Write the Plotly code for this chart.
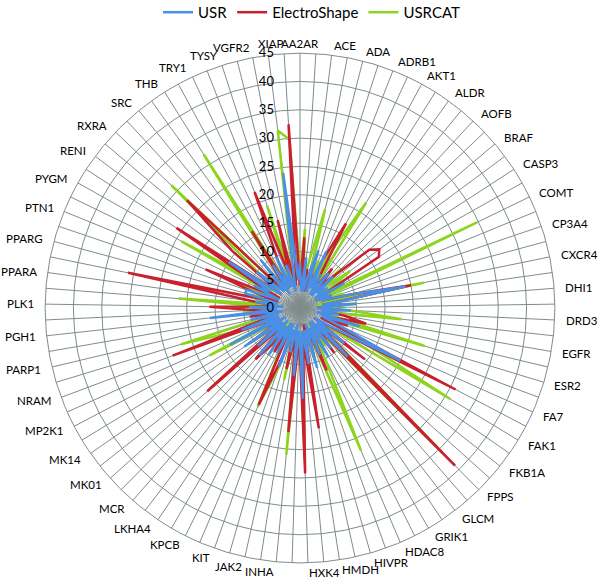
import math
import plotly.graph_objects as go

categories = ["AA2AR","ABL1","ACE","ACES","ADA","ADA17","ADRB1","ADRB2","AKT1","AKT2",
              "ALDR","ANDR","AOFB","BACE1","BRAF","CAH2","CASP3","CDK2","COMT","CP2C9",
              "CP3A4","CSF1R","CXCR4","DEF","DHI1","DPP4","DRD3","DYR","EGFR","ESR1",
              "ESR2","FA10","FA7","FABP4","FAK1","FGFR1","FKB1A","FNTA","FPPS","GCR",
              "GLCM","GRIA2","GRIK1","HDAC2","HDAC8","HIVINT","HIVPR","HIVRT","HMDH","HS90A",
              "HXK4","IGF1R","INHA","ITAL","JAK2","KIF11","KIT","KITH","KPCB","LCK",
              "LKHA4","MAPK2","MCR","MET","MK01","MK10","MK14","MMP13","MP2K1","NOS1",
              "NRAM","PA2GA","PARP1","PDE5A","PGH1","PGH2","PLK1","PNPH","PPARA","PPARD",
              "PPARG","PRGR","PTN1","PUR2","PYGM","PYRD","RENI","ROCK1","RXRA","SAHH",
              "SRC","TGFR1","THB","THRB","TRY1","TRYB1","TYSY","UROK","VGFR2","WEE1","XIAP"]

# category labels printed around the chart
tick_labels = ["AA2AR","ACE","ADA","ADRB1","AKT1","ALDR","AOFB","BRAF","CASP3","COMT",
               "CP3A4","CXCR4","DHI1","DRD3","EGFR","ESR2","FA7","FAK1","FKB1A","FPPS",
               "GLCM","GRIK1","HDAC8","HIVPR","HMDH","HXK4","INHA","JAK2","KIT","KPCB",
               "LKHA4","MCR","MK01","MK14","MP2K1","NRAM","PARP1","PGH1","PLK1","PPARA",
               "PPARG","PTN1","PYGM","RENI","RXRA","SRC","THB","TRY1","TYSY","VGFR2","XIAP"]

usr = [8,3,9,3,6,10.7,3,11,4,7, 3,8,3,8,4,6,3,9,3,6,
       4,9,19,4,10,3,9,4,7,3, 11,4,8,20,6,3,10,4,12,3,
       9,3,10,4,9,3,11,4,10,4, 16,4,12,3,8,4,11,3,9,3,
       10,4,11,3,10,4,12,3,14,4, 11,4,9,3,16,4,9,3,8,4,
       10,10,4,9,6,15,4,10,5,4, 11,3,9,4,10,4,8,3,6,24, 5]
electroshape = [4,12.5,3,7,3,8,4,9,17,6, 4,9,5,8,16,17.4,16.6,4,3,6,
                4,9,20,4,8,3,7,4,8,12, 5,9,4,31,7,3,14.6,4,39,4,
                10,3,8,4,12,4,9,3,21.5,6, 29.2,5,22,5,11,4,9,18.6,4,9,
                4,8,12,4,22,4,11,4,9,4, 24,6,4,9,5,8,16,4,8,31,
                4,8,18,4,9,26,4,15.6,27.6,4, 8,4,16,4,9,22,6,16,4,6, 32.5]
usrcat = [6,14,4,8,18,5,9,4,11,22, 4,8,4,10,6,11,6,3,34.7,3,
          8,4,22.3,3,10,4,9,18,4,6, 23,4,8,11,31,4,8,5,36,6,
          4,8,3,9,27.4,4,10,4,11,4, 27,4,26,4,13,4,11,19,6,4,
          10,3,9,4,21,4,9,5,18,4, 11,22,5,8,4,10,5,21.5,4,8,
          9,4,11,4,24,6,4,9,31.4,4, 6,4,32,5,8,4,19,4,8,31.6, 29.8]

# (name, values, colour, legend position); drawn green first so blue sits on top
series = [("USRCAT", usrcat, "#8CD41E", 3),
          ("ElectroShape", electroshape, "#C8202F", 2),
          ("USR", usr, "#4A8FE3", 1)]

W, H = 600, 578
DOM_X = [0.075, 0.925]
DOM_Y = [0.026, 0.908]
GRID = "#7F8C8C"
FONT = "Lato, Open Sans, sans-serif"

fig = go.Figure()
for name, vals, col, rank in series:
    fig.add_trace(go.Scatterpolar(
        r=vals + vals[:1], theta=categories + categories[:1],
        mode="lines", name=name, legendrank=rank,
        line=dict(color=col, width=2.5)))

# category labels placed just outside the outer ring, anchored away from the
# centre like the spreadsheet radar chart (derived from each category's index)
cx = W * (DOM_X[0] + DOM_X[1]) / 2
cy = H * (1 - (DOM_Y[0] + DOM_Y[1]) / 2)
rad = min(W * (DOM_X[1] - DOM_X[0]), H * (DOM_Y[1] - DOM_Y[0])) / 2 + 10
n = len(categories)
annotations = []
for lab in tick_labels:
    a = 2 * math.pi * categories.index(lab) / n
    s, c = math.sin(a), math.cos(a)
    xanchor = "center" if abs(s) < 1e-6 else ("left" if s > 0 else "right")
    annotations.append(dict(
        text=lab, x=(cx + rad * s) / W, y=1 - (cy - rad * c) / H,
        xref="paper", yref="paper", xanchor=xanchor, yanchor="middle",
        showarrow=False, borderpad=0,
        font=dict(size=11.5, color="black", family=FONT)))

fig.update_layout(
    width=W, height=H,
    margin=dict(l=0, r=0, t=0, b=0, autoexpand=False),
    paper_bgcolor="white", plot_bgcolor="white",
    font=dict(family=FONT, color="black"),
    legend=dict(orientation="h", x=0.52, xanchor="center", y=1.007, yanchor="top",
                font=dict(size=15), bgcolor="rgba(0,0,0,0)"),
    annotations=annotations,
    polar=dict(
        domain=dict(x=DOM_X, y=DOM_Y),
        bgcolor="white",
        gridshape="circular",
        radialaxis=dict(range=[0, 45], dtick=5, angle=90, tickangle=90,
                        showline=False, gridcolor=GRID, gridwidth=1,
                        ticks="outside", ticklen=21, tickcolor="rgba(0,0,0,0)",
                        tickfont=dict(size=13, color="black"),
                        side="counterclockwise"),
        angularaxis=dict(type="category", direction="clockwise", rotation=90,
                         categoryorder="array", categoryarray=categories,
                         showticklabels=False,
                         showline=True, linecolor=GRID, linewidth=1,
                         gridcolor=GRID, gridwidth=1, ticks=""),
    ),
)

# remove the browser's default page margin so the figure fills the window
fig.write_html("out.html",
               config={"displayModeBar": False},
               post_script="document.body.style.margin='0';"
                           "document.body.style.overflow='hidden';")
